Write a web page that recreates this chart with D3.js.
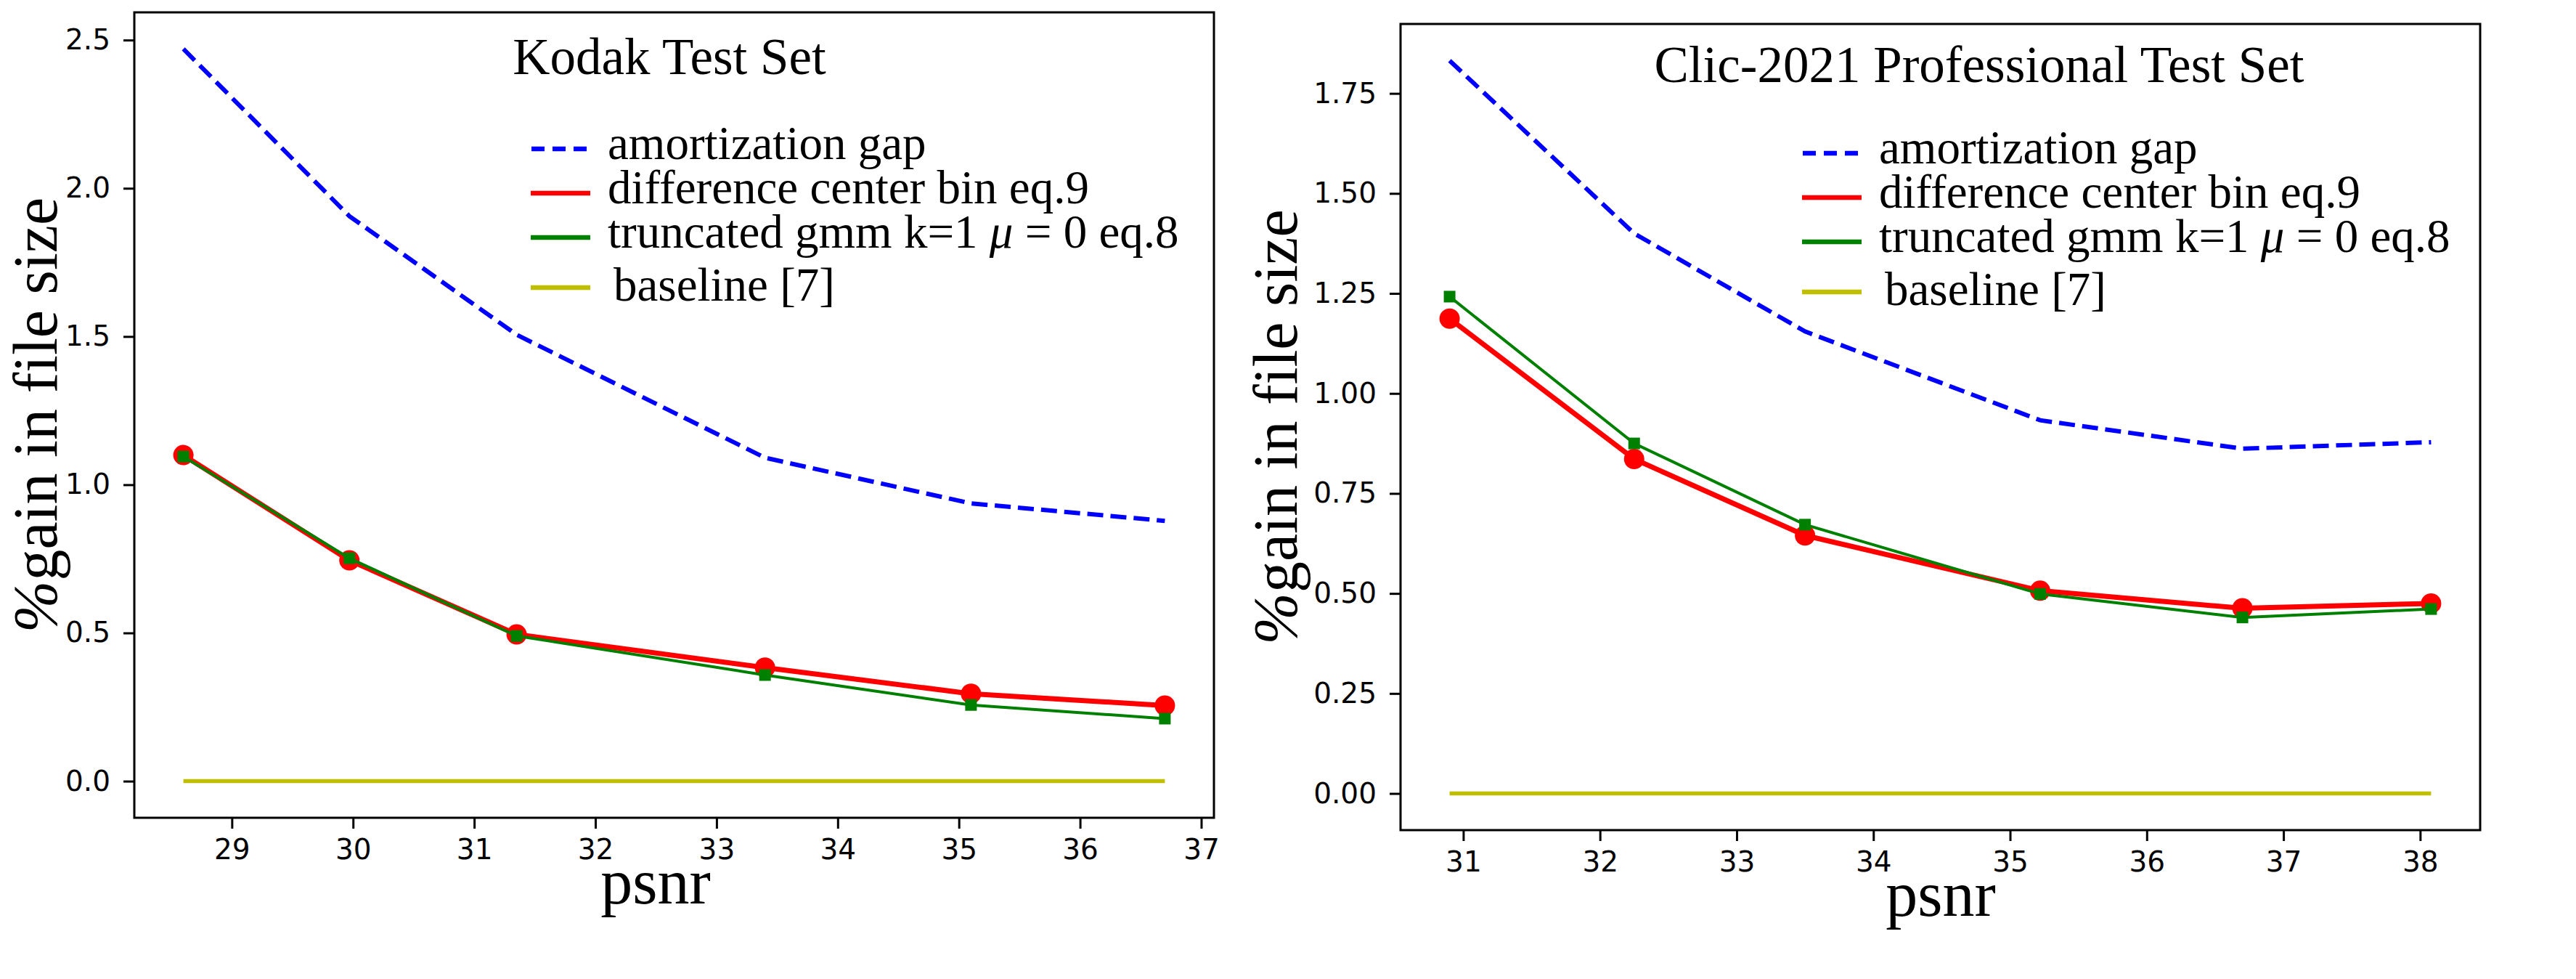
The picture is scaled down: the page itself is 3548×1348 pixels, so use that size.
<!DOCTYPE html>
<html>
<head>
<meta charset="utf-8">
<script src="https://cdn.jsdelivr.net/npm/d3@7"></script>
<style>
body { margin: 0; background: #fff; }
svg { display: block; background: #fff; }
.serif { font-family: "Liberation Serif", "Times New Roman", serif; fill: #000; }
</style>
</head>
<body>
<div id="c_plot"></div>
<script>
// Kodak panel
var kodakPsnr = [28.6, 29.97, 31.35, 33.4, 35.1, 36.7];
var kodakAmort = [2.47, 1.906, 1.506, 1.091, 0.937, 0.878];
var kodakCenter = [1.10, 0.745, 0.495, 0.383, 0.295, 0.255];
var kodakGmm = [1.095, 0.752, 0.49, 0.358, 0.257, 0.211];
var kodakBase = [0, 0, 0, 0, 0, 0];
var kodakXTicks = [29, 30, 31, 32, 33, 34, 35, 36, 37];
var kodakYTicks = [0, 0.5, 1, 1.5, 2, 2.5];

// Clic panel
var clicPsnr = [30.9, 32.25, 33.5, 35.22, 36.7, 38.08];
var clicAmort = [1.832, 1.40, 1.155, 0.933, 0.862, 0.878];
var clicCenter = [1.187, 0.836, 0.645, 0.507, 0.463, 0.475];
var clicGmm = [1.242, 0.875, 0.672, 0.499, 0.44, 0.461];
var clicBase = [0, 0, 0, 0, 0, 0];
var clicXTicks = [31, 32, 33, 34, 35, 36, 37, 38];
var clicYTicks = [0, 0.25, 0.5, 0.75, 1, 1.25, 1.5, 1.75];

var seriesNames = ["amortization gap", "difference center bin eq.9", "truncated gmm k=1 ", "baseline [7]"];
var xLabel = "psnr";
var yLabel = "gain in file size";

var svg = d3.select("#c_plot")
  .append("svg")
  .attr("width", 3548)
  .attr("height", 1348);

function plotPanel(p)
{
  var width = p.width, height = p.height;
  var g = svg.append("g")
    .attr("transform", "translate(" + p.left + "," + p.top + ")");

  // matplotlib style 5% margins
  var allY = d3.merge([p.amort, p.center, p.gmm, p.base]);
  var yMin = d3.min(allY), yMax = d3.max(allY);
  var yPad = (yMax - yMin) * 0.05;
  var xMin = d3.min(p.psnr), xMax = d3.max(p.psnr);
  var xPad = (xMax - xMin) * 0.05;

  var x = d3.scaleLinear().domain([xMin - xPad, xMax + xPad]).range([0, width]);
  var y = d3.scaleLinear().domain([yMin - yPad, yMax + yPad]).range([height, 0]);

  // axes
  var ax = g.append("g")
    .attr("transform", "translate(0," + height + ")")
    .call(d3.axisBottom(x).tickValues(p.xTicks).tickFormat(d3.format("d")).tickSize(15).tickPadding(14));
  var ay = g.append("g")
    .call(d3.axisLeft(y).tickValues(p.yTicks).tickFormat(d3.format(p.yFmt)).tickSize(15).tickPadding(18));
  [ax, ay].forEach(function(a){
    a.select(".domain").remove();
    a.selectAll(".tick line").attr("stroke", "#000").attr("stroke-width", 3);
    a.selectAll(".tick text")
      .attr("fill", "#000")
      .style("font-family", "'DejaVu Sans', sans-serif")
      .style("font-size", "39px");
  });

  var idx = d3.range(p.psnr.length);
  function lineOf(vals) {
    return d3.line().x(i => x(p.psnr[i])).y(i => y(vals[i]))(idx);
  }

  g.append("path")
    .attr("d", lineOf(p.amort))
    .attr("fill", "none")
    .attr("stroke", "#0000ff")
    .attr("stroke-width", 6)
    .attr("stroke-dasharray", "22,10");

  g.append("path")
    .attr("d", lineOf(p.center))
    .attr("fill", "none")
    .attr("stroke", "#ff0000")
    .attr("stroke-width", 7)
    .attr("stroke-linejoin", "round");
  g.selectAll(".dot")
    .data(idx)
    .enter()
    .append("circle")
    .attr("cx", i => x(p.psnr[i]))
    .attr("cy", i => y(p.center[i]))
    .attr("r", 14)
    .attr("fill", "#ff0000");

  g.append("path")
    .attr("d", lineOf(p.gmm))
    .attr("fill", "none")
    .attr("stroke", "#008000")
    .attr("stroke-width", 4);
  g.selectAll(".sq")
    .data(idx)
    .enter()
    .append("rect")
    .attr("x", i => x(p.psnr[i]) - 8)
    .attr("y", i => y(p.gmm[i]) - 8)
    .attr("width", 16)
    .attr("height", 16)
    .attr("fill", "#008000");

  g.append("path")
    .attr("d", lineOf(p.base))
    .attr("fill", "none")
    .attr("stroke", "#bfbf00")
    .attr("stroke-width", 5.5);

  // frame
  g.append("rect")
    .attr("width", width)
    .attr("height", height)
    .attr("fill", "none")
    .attr("stroke", "#000")
    .attr("stroke-width", 3);

  // title inside the axes
  g.append("text")
    .attr("class", "serif")
    .attr("x", p.titleX)
    .attr("y", p.titleY)
    .attr("text-anchor", "middle")
    .style("font-size", "71px")
    .text(p.title);

  // legend
  var legColors = ["#0000ff", "#ff0000", "#008000", "#bfbf00"];
  var legOffsets = [0, 61, 122, 191];
  for(var k=0; k<4; k++)
  {
    var ly = p.legTop + legOffsets[k];
    var h = g.append("line")
      .attr("x1", p.legX).attr("x2", p.legX + 82)
      .attr("y1", ly).attr("y2", ly)
      .attr("stroke", legColors[k])
      .attr("stroke-width", 6.5);
    if(k == 0) h.attr("stroke-dasharray", "18,11").attr("x1", p.legX + 1);
    var t = g.append("text")
      .attr("class", "serif")
      .attr("x", p.legX + 106 + (k == 3 ? 8 : 0))
      .attr("y", ly + (k == 3 ? 18 : 14))
      .style("font-size", "65px")
      .text(seriesNames[k]);
    if(k == 2) {
      t.append("tspan").style("font-style", "italic").text("\u03bc");
      t.append("tspan").text(" = 0 eq.8");
    }
  }

  // axis labels
  g.append("text")
    .attr("class", "serif")
    .attr("x", p.xLabelX)
    .attr("y", height + 118)
    .attr("text-anchor", "middle")
    .style("font-size", "88px")
    .text(xLabel);

  var yl = g.append("text")
    .attr("class", "serif")
    .attr("transform", "translate(" + p.yLabelX + "," + (height / 2) + ") rotate(-90)")
    .attr("text-anchor", "middle")
    .style("font-size", "86px");
  yl.append("tspan").style("font-style", "italic").text("%");
  yl.append("tspan").text(yLabel);
}

plotPanel({
  left: 185, top: 17, width: 1487, height: 1109,
  psnr: kodakPsnr, amort: kodakAmort, center: kodakCenter, gmm: kodakGmm, base: kodakBase,
  xTicks: kodakXTicks, yTicks: kodakYTicks, yFmt: ".1f",
  title: "Kodak Test Set", titleX: 737, titleY: 85,
  legX: 546, legTop: 188,
  xLabelX: 718, yLabelX: -107
});

plotPanel({
  left: 1929, top: 33, width: 1487, height: 1110,
  psnr: clicPsnr, amort: clicAmort, center: clicCenter, gmm: clicGmm, base: clicBase,
  xTicks: clicXTicks, yTicks: clicYTicks, yFmt: ".2f",
  title: "Clic-2021 Professional Test Set", titleX: 797, titleY: 80,
  legX: 553, legTop: 178,
  xLabelX: 744, yLabelX: -143
});
</script>
</body>
</html>
